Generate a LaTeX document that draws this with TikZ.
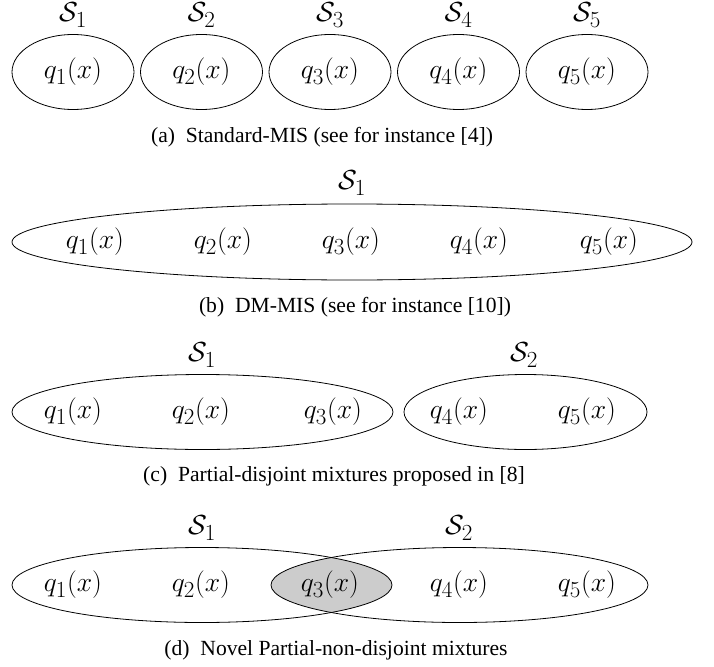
\documentclass[tikz,border=0pt]{standalone}
\usepackage{fontspec}
\setmainfont{Liberation Serif}
\newcommand{\mth}[1]{\scalebox{1.11}{\fontsize{24.88}{30}\selectfont$#1$}}
\begin{document}
\begin{tikzpicture}[x=1pt,y=-1pt,
  setline/.style={line width=0.8pt},
  qlab/.style={inner sep=0pt},
  slab/.style={inner sep=0pt},
  captext/.style={font=\fontsize{21.6}{26}\selectfont, inner sep=0pt}]
\useasboundingbox (0,0) rectangle (714,666);

% (a)
\foreach \i/\x in {1/73,2/201.5,3/330,4/458.5,5/587}{
  \draw[setline] (\x,72) ellipse [x radius=61, y radius=37.5];
  \node[qlab] (aq\i) at (\x,72) {\mth{q_{\i}(x)}};
  \node[slab] (as\i) at (\x,15) {\mth{\mathcal{S}_{\i}}};
}
\node[captext] (capa) at (322,137) {(a)\hspace{0.5em}Standard-MIS (see for instance [4])};

% (b)
\draw[setline] (352,242) ellipse [x radius=340, y radius=38];
\foreach \i/\x in {1/95,2/223,3/351,4/479,5/609}{
  \node[qlab] (bq\i) at (\x,242) {\mth{q_{\i}(x)}};
}
\node[slab] (bs1) at (352,183) {\mth{\mathcal{S}_{1}}};
\node[captext] (capb) at (355,307) {(b)\hspace{0.5em}DM-MIS (see for instance [10])};

% (c)
\draw[setline] (202.5,412) ellipse [x radius=190.5, y radius=37.5];
\draw[setline] (525.5,412) ellipse [x radius=121.5, y radius=37.5];
\foreach \i/\x in {1/73,2/201,3/333,4/459,5/587}{
  \node[qlab] (cq\i) at (\x,412) {\mth{q_{\i}(x)}};
}
\node[slab] (cs1) at (202,355) {\mth{\mathcal{S}_{1}}};
\node[slab] (cs2) at (524,355) {\mth{\mathcal{S}_{2}}};
\node[captext] (capc) at (334,476) {(c)\hspace{0.5em}Partial-disjoint mixtures proposed in [8]};

% (d)
\begin{scope}
  \clip (202,585) ellipse [x radius=190, y radius=37.5];
  \fill[black!20] (459.5,585) ellipse [x radius=188.5, y radius=37.5];
\end{scope}
\draw[setline] (202,585) ellipse [x radius=190, y radius=37.5];
\draw[setline] (459.5,585) ellipse [x radius=188.5, y radius=37.5];
\foreach \i/\x in {1/73,2/201,3/330,4/459,5/587}{
  \node[qlab] (dq\i) at (\x,585) {\mth{q_{\i}(x)}};
}
\node[slab] (ds1) at (202,528) {\mth{\mathcal{S}_{1}}};
\node[slab] (ds2) at (459,528) {\mth{\mathcal{S}_{2}}};
\node[captext] (capd) at (336,650) {(d)\hspace{0.5em}Novel Partial-non-disjoint mixtures};
\end{tikzpicture}
\end{document}
